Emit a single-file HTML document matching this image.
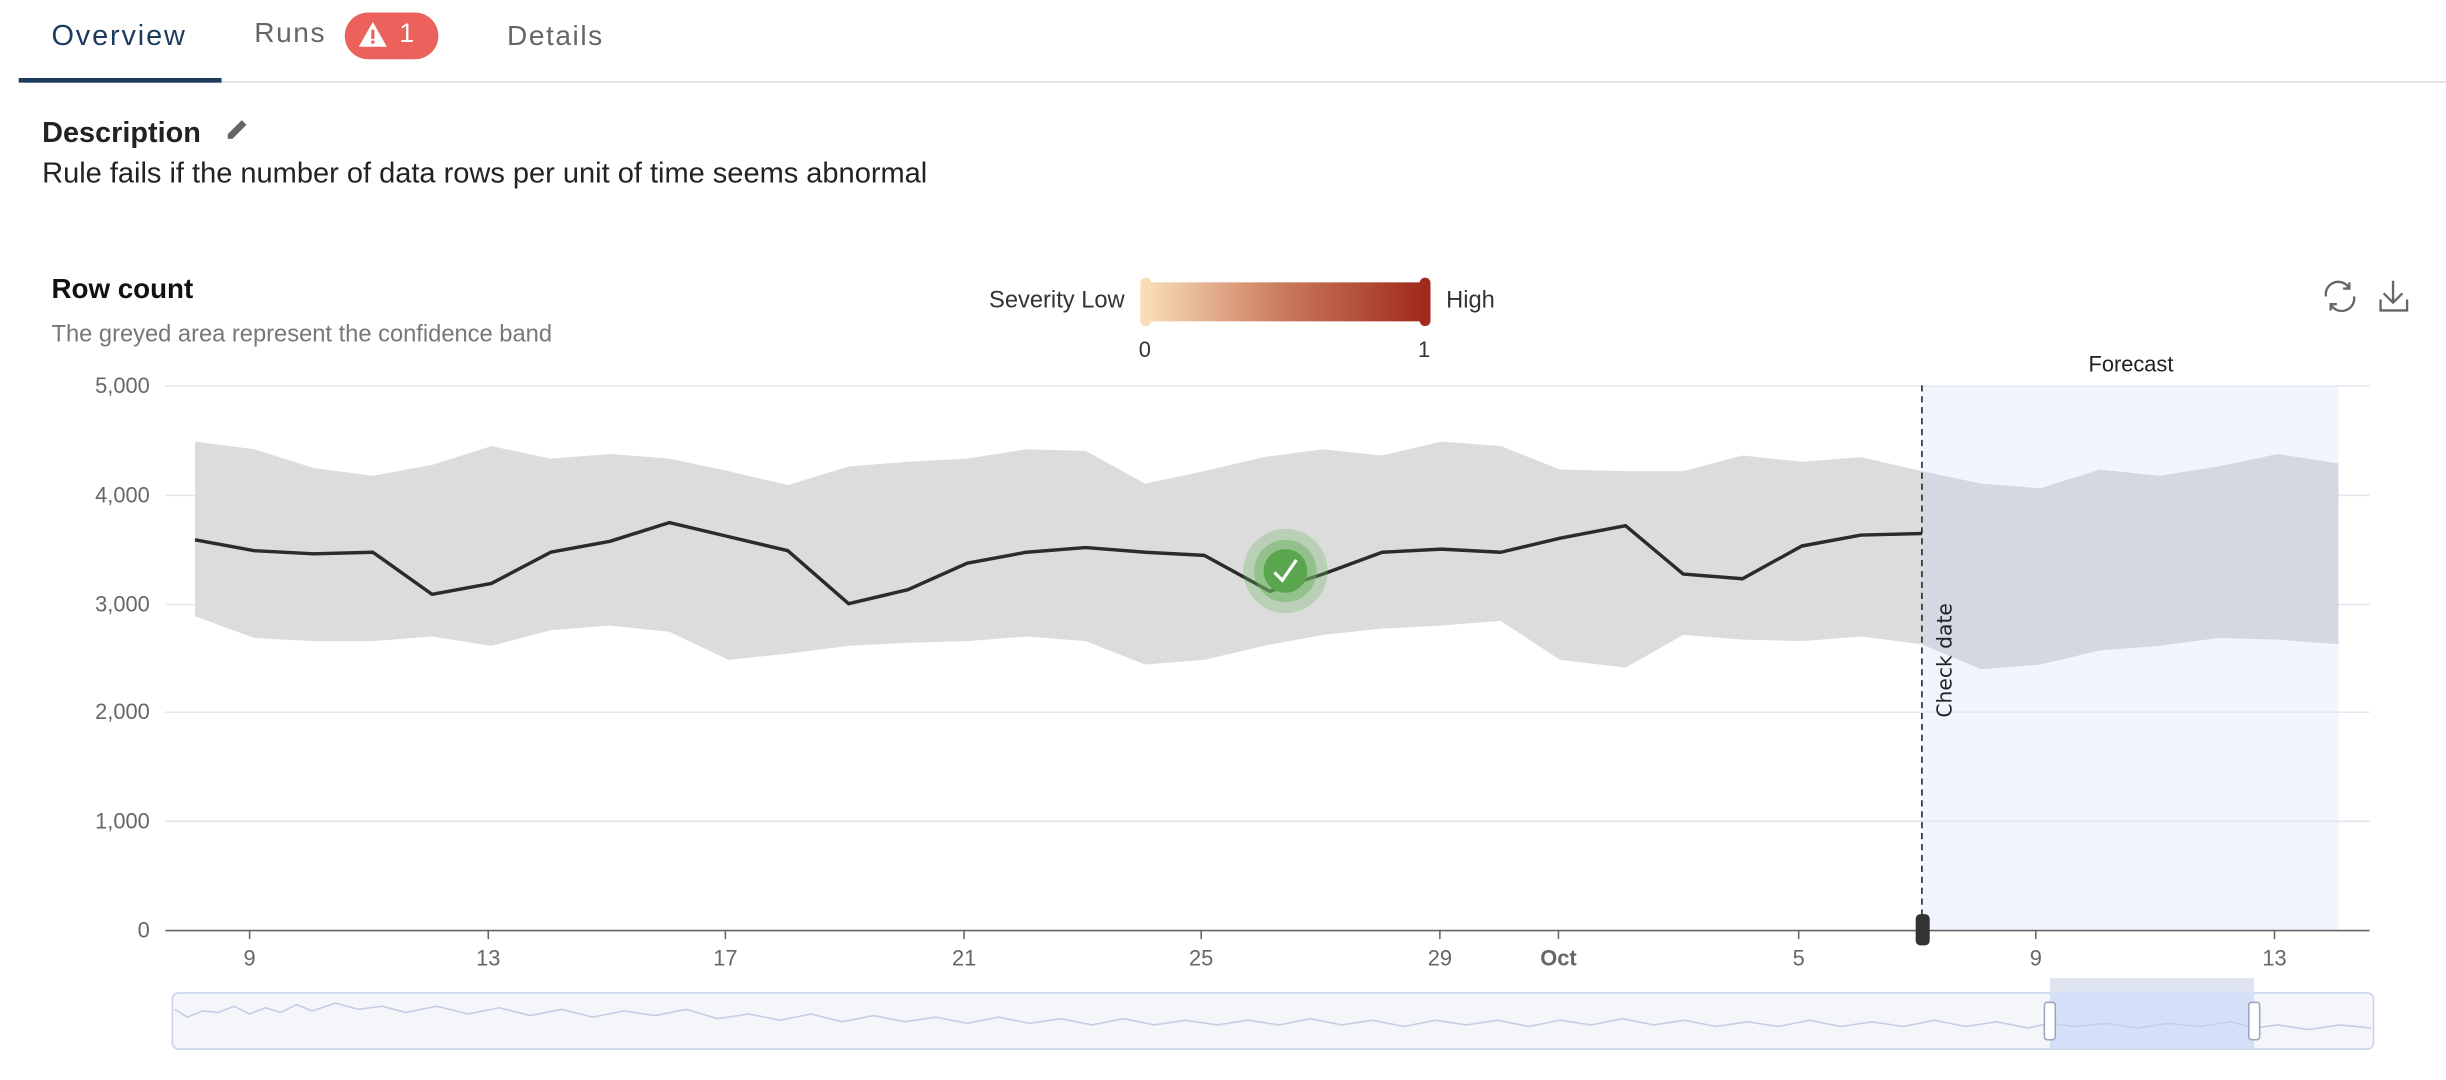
<!DOCTYPE html>
<html><head><meta charset="utf-8"><style>
html,body{margin:0;padding:0;background:#fff;width:2446px;height:1080px;overflow:hidden}
#w{position:absolute;left:0;top:0;width:1568px;height:692px;transform:scale(1.56,1.56);transform-origin:0 0;font-family:"Liberation Sans",sans-serif}
.t{position:absolute;white-space:nowrap}
</style></head><body><div id="w">
<div class="t" style="left:33px;top:12px;font-size:18.5px;color:#1d3a5f;letter-spacing:1.2px">Overview</div>
<div style="position:absolute;left:12px;top:50px;width:130px;height:3px;background:#1d3a5f"></div>
<div style="position:absolute;left:142px;top:52px;width:1426px;height:1px;background:#dcdcdc"></div>
<div class="t" style="left:163px;top:11px;font-size:18px;color:#666;letter-spacing:1px">Runs</div>
<div style="position:absolute;left:221px;top:8px;width:60px;height:30px;border-radius:15px;background:#ec615b"></div>
<svg style="position:absolute;left:229px;top:13px" width="20" height="18"><path d="M10 1 L19 17 L1 17 Z" fill="#fff"/><rect x="9" y="6" width="2" height="6" fill="#ec615b"/><rect x="9" y="13" width="2" height="2" fill="#ec615b"/></svg>
<div class="t" style="left:256px;top:12px;font-size:17px;color:#fff">1</div>
<div class="t" style="left:325px;top:13px;font-size:18px;color:#666;letter-spacing:1px">Details</div>
<div class="t" style="left:27px;top:74px;font-size:18.5px;font-weight:bold;color:#222">Description</div>
<svg style="position:absolute;left:143px;top:74px" width="18" height="18"><path d="M3 15 L3 12 L12 3 L15 6 L6 15 Z" fill="#666"/></svg>
<div class="t" style="left:27px;top:100px;font-size:18.6px;color:#222">Rule fails if the number of data rows per unit of time seems abnormal</div>
<div class="t" style="left:33px;top:175px;font-size:17.8px;font-weight:bold;color:#111">Row count</div>
<div class="t" style="left:33px;top:206px;font-size:15.2px;color:#777">The greyed area represent the confidence band</div>
<div class="t" style="left:634px;top:184px;font-size:15.2px;color:#333">Severity Low</div>
<div style="position:absolute;left:736px;top:181px;width:176px;height:25px;background:linear-gradient(90deg,#f8dcb4,#c9785c,#a12b1c)"></div>
<div style="position:absolute;left:731px;top:178px;width:7px;height:31px;border-radius:4px;background:#f8dcb4"></div>
<div style="position:absolute;left:910px;top:178px;width:7px;height:31px;border-radius:4px;background:#a12b1c"></div>
<div class="t" style="left:927px;top:184px;font-size:15.2px;color:#333">High</div>
<div class="t" style="left:730px;top:216px;font-size:14px;color:#333">0</div>
<div class="t" style="left:909px;top:216px;font-size:14px;color:#333">1</div>
<svg style="position:absolute;left:1488px;top:178px" width="60" height="24" fill="none" stroke="#666" stroke-width="1.5"><path d="M3 12 A8 8 0 0 1 18 7 M21 12 A8 8 0 0 1 6 17 M18 3 L18 7 L14 7 M6 21 L6 17 L10 17"/><path d="M46 2 L46 16 M40 10 L46 16 L52 10 M38 14 L38 21 L55 21 L55 14"/></svg>
<svg style="position:absolute;left:0;top:0" width="1568" height="692">
<g fill="#666" font-size="14" font-family="Liberation Sans,sans-serif" text-anchor="end">
<text x="96" y="252">5,000</text><text x="96" y="322">4,000</text><text x="96" y="392">3,000</text><text x="96" y="461">2,000</text><text x="96" y="531">1,000</text><text x="96" y="601">0</text></g>
<rect x="1232" y="247" width="267" height="349" fill="#f1f5fd"/>
<g stroke="#e3e6ee" stroke-width="1"><line x1="106" x2="1519" y1="247.5" y2="247.5"/><line x1="106" x2="1519" y1="317.5" y2="317.5"/><line x1="106" x2="1519" y1="387.5" y2="387.5"/><line x1="106" x2="1519" y1="456.5" y2="456.5"/><line x1="106" x2="1519" y1="526.5" y2="526.5"/></g>
<clipPath id="c1"><rect x="0" y="0" width="1232" height="692"/></clipPath>
<path d="M125 283 L163 288 L201 300 L239 305 L277 298 L315 286 L353 294 L391 291 L429 294 L467 302 L505 311 L544 299 L582 296 L620 294 L658 288 L696 289 L734 310 L772 302 L810 293 L848 288 L886 292 L924 283 L962 286 L1000 301 L1042 302 L1079 302 L1117 292 L1155 296 L1193 293 L1232 302 L1232 413 L1193 408 L1155 411 L1117 410 L1079 407 L1042 428 L1000 423 L962 398 L924 401 L886 403 L848 407 L810 414 L772 423 L734 426 L696 411 L658 408 L620 411 L582 412 L544 414 L505 419 L467 423 L429 405 L391 401 L353 404 L315 414 L277 408 L239 411 L201 411 L163 409 L125 395 Z" fill="#dcdcdc"/>
<path d="M1232 302 L1270 310 L1308 313 L1346 301 L1384 305 L1422 299 L1460 291 L1499 297 L1499 413 L1460 410 L1422 409 L1384 414 L1346 417 L1308 426 L1270 429 L1232 413 Z" fill="#d4d8e2"/>
<polyline fill="none" stroke="#2b2b2b" stroke-width="2.2" stroke-linejoin="round" points="125,346 163,353 201,355 239,354 277,381 315,374 353,354 391,347 429,335 467,344 505,353 544,387 582,378 620,361 658,354 696,351 734,354 772,356 814,379 848,368 886,354 924,352 962,354 1000,345 1042,337 1079,368 1117,371 1155,350 1193,343 1232,342"/>
<circle cx="824" cy="366" r="27" fill="#6bb35f" opacity=".3"/><circle cx="824" cy="366" r="20" fill="#6bb35f" opacity=".5"/><circle cx="824" cy="366" r="14" fill="#5aa64e"/>
<path d="M817 367 L822 372 L831 359" stroke="#fff" stroke-width="2" fill="none"/>
<line x1="106" x2="1519" y1="596.5" y2="596.5" stroke="#666"/>
<g stroke="#666"><line x1="160" x2="160" y1="596" y2="602"/><line x1="313" x2="313" y1="596" y2="602"/><line x1="465" x2="465" y1="596" y2="602"/><line x1="618" x2="618" y1="596" y2="602"/><line x1="770" x2="770" y1="596" y2="602"/><line x1="923" x2="923" y1="596" y2="602"/><line x1="999" x2="999" y1="596" y2="602"/><line x1="1153" x2="1153" y1="596" y2="602"/><line x1="1305" x2="1305" y1="596" y2="602"/><line x1="1458" x2="1458" y1="596" y2="602"/></g>
<g fill="#666" font-size="14" font-family="Liberation Sans,sans-serif" text-anchor="middle">
<text x="160" y="619">9</text><text x="313" y="619">13</text><text x="465" y="619">17</text><text x="618" y="619">21</text><text x="770" y="619">25</text><text x="923" y="619">29</text><text x="999" y="619" font-weight="bold">Oct</text><text x="1153" y="619">5</text><text x="1305" y="619">9</text><text x="1458" y="619">13</text></g>
<line x1="1232" x2="1232" y1="247" y2="596" stroke="#222" stroke-dasharray="4,3"/>
<rect x="1228" y="586" width="9" height="20" rx="3" fill="#333"/>
<text transform="translate(1251,460) rotate(-90)" font-size="13" fill="#222" font-family="DejaVu Sans,sans-serif">Check date</text>
<text x="1366" y="238" text-anchor="middle" font-size="14" fill="#222" font-family="Liberation Sans,sans-serif">Forecast</text>
<rect x="110.5" y="636.5" width="1411" height="36" rx="4" fill="#f5f6fa" stroke="#c8d3ea"/>
<rect x="1314" y="627" width="131" height="9" fill="#dfe5f0"/>
<rect x="1314" y="636" width="131" height="36" fill="#d5e0f8"/>
<polyline fill="none" stroke="#c5cde4" stroke-width="1" points="112,647 120,652 130,648 140,649 150,645 160,650 170,646 180,649 190,644 200,648 215,643 230,647 245,645 260,649 280,645 300,650 320,646 340,651 360,647 380,652 400,648 420,651 440,647 460,653 480,650 500,654 520,650 540,655 560,651 580,655 600,652 620,656 640,652 660,656 680,653 700,657 720,653 740,657 760,654 780,657 800,654 820,657 840,653 860,657 880,654 900,658 920,654 940,657 960,654 980,658 1000,654 1020,657 1040,653 1060,657 1080,654 1100,658 1120,655 1140,658 1160,654 1180,658 1200,655 1220,658 1240,654 1260,658 1280,655 1300,659 1314,656 1330,658 1350,656 1370,659 1390,656 1410,658 1430,655 1445,659 1460,657 1480,660 1500,657 1520,659"/>
<rect x="1310.5" y="642.5" width="7" height="24" rx="2" fill="#fff" stroke="#9aa6c0"/>
<rect x="1441.5" y="642.5" width="7" height="24" rx="2" fill="#fff" stroke="#9aa6c0"/>
</svg>
</div></body></html>
